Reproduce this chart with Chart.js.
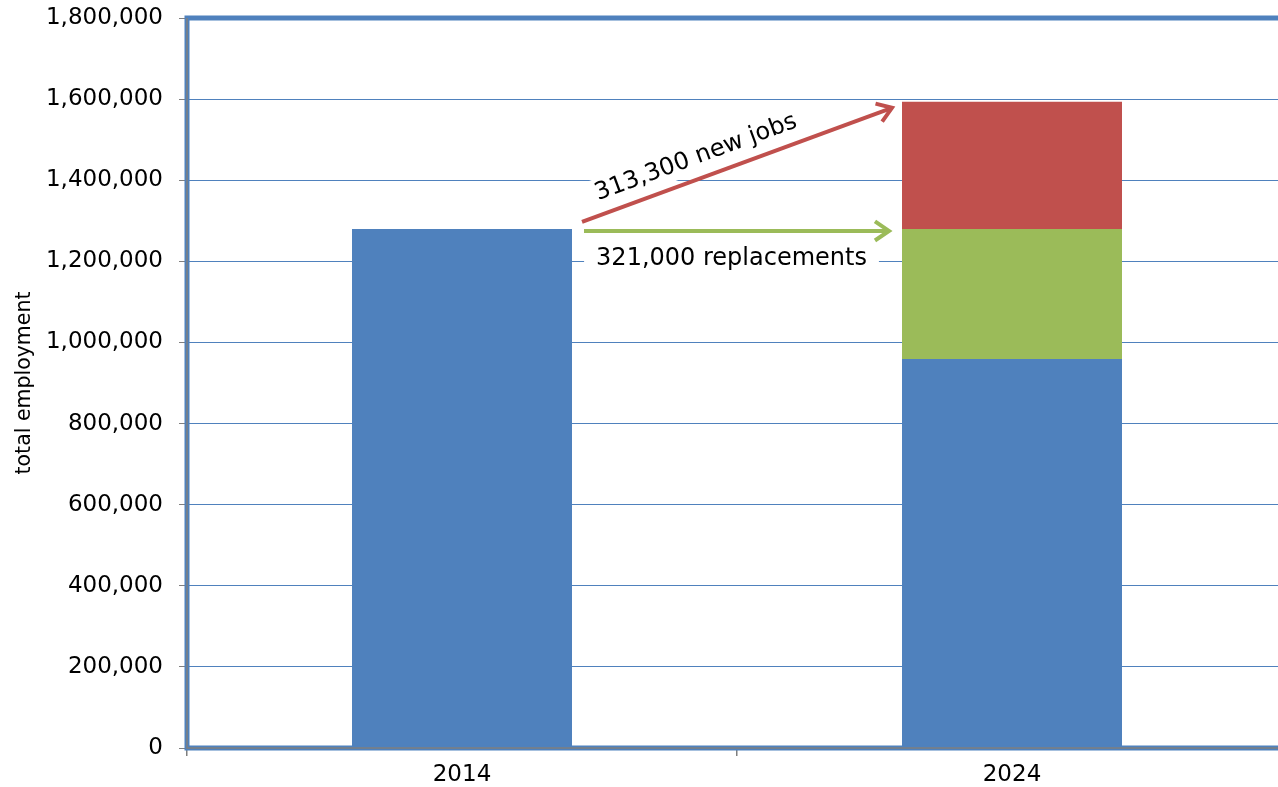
<!DOCTYPE html>
<html>
<head>
<meta charset="utf-8">
<script src="https://cdn.jsdelivr.net/npm/chart.js@4/dist/chart.umd.min.js"></script>
<style>
  html, body { margin: 0; padding: 0; background: #fff; overflow: hidden; }
  #wrap { width: 1290px; height: 787px; }
</style>
</head>
<body>
<div id="wrap"><canvas id="grafico"></canvas></div>
<script>
// Data
const years = ['2014', '2024'];
const employed = [1280000, 959000];
const replacements = [null, 321000];
const newJobs = [null, 313300];
const yTicks = [0, 200000, 400000, 600000, 800000, 1000000, 1200000, 1400000, 1600000, 1800000];
const newJobsLabel = '313,300 new jobs';
const replacementsLabel = '321,000 replacements';

const FONT = '"DejaVu Sans", "Liberation Sans", sans-serif';
const BLUE = '#4f81bd';
const GREEN = '#9bbb59';
const RED = '#c0504d';

// Draw an arrow with an open head
function drawArrow(ctx, x0, y0, x1, y1, color) {
  const ang = Math.atan2(y1 - y0, x1 - x0);
  const head = 17;
  ctx.save();
  ctx.strokeStyle = color;
  ctx.lineWidth = 4;
  ctx.beginPath();
  ctx.moveTo(x0, y0);
  ctx.lineTo(x1, y1);
  ctx.stroke();
  ctx.beginPath();
  ctx.moveTo(x1 - head * Math.cos(ang - 0.6), y1 - head * Math.sin(ang - 0.6));
  ctx.lineTo(x1, y1);
  ctx.lineTo(x1 - head * Math.cos(ang + 0.6), y1 - head * Math.sin(ang + 0.6));
  ctx.stroke();
  ctx.restore();
}

// Text on a white box
function drawLabel(ctx, text, cx, cy, angle, padX) {
  ctx.save();
  ctx.translate(cx, cy);
  ctx.rotate(angle);
  ctx.font = '24px ' + FONT;
  const w = ctx.measureText(text).width;
  ctx.fillStyle = '#fff';
  ctx.fillRect(-w / 2 - padX, -15, w + 2 * padX, 30);
  ctx.fillStyle = '#000';
  ctx.textAlign = 'center';
  ctx.textBaseline = 'middle';
  ctx.fillText(text, 0, 0);
  ctx.restore();
}

const annotations = {
  id: 'annotations',
  afterDatasetsDraw(chart) {
    const ctx = chart.ctx;
    const area = chart.chartArea;
    const y = chart.scales.y;
    const bar0 = chart.getDatasetMeta(0).data[0];
    const bar1 = chart.getDatasetMeta(0).data[1];
    const right0 = bar0.x + bar0.width / 2;
    const left1 = bar1.x - bar1.width / 2;
    const yBase = y.getPixelForValue(employed[0]);
    const yTotal = y.getPixelForValue(employed[1] + replacements[1] + newJobs[1]);

    // arrows
    const red = { x0: right0 + 10, y0: yBase - 7, x1: left1 - 10, y1: yTotal + 6 };
    const green = { x0: right0 + 12, y0: yBase + 2, x1: left1 - 13, y1: yBase + 2 };

    // labels first, arrows over them
    const ang = Math.atan2(red.y1 - red.y0, red.x1 - red.x0);
    const mx = (red.x0 + red.x1) / 2, my = (red.y0 + red.y1) / 2;
    const ux = Math.cos(ang), uy = Math.sin(ang);
    const cx = mx - 36 * ux + 21 * uy;
    const cy = my - 36 * uy - 21 * ux;
    drawLabel(ctx, newJobsLabel, cx, cy, ang, 12);
    drawLabel(ctx, replacementsLabel, (green.x0 + green.x1) / 2 - 5, green.y0 + 28, 0, 12);

    drawArrow(ctx, red.x0, red.y0, red.x1, red.y1, RED);
    drawArrow(ctx, green.x0, green.y0, green.x1, green.y1, GREEN);

    // plot frame
    ctx.save();
    ctx.strokeStyle = BLUE;
    ctx.lineWidth = 5;
    ctx.beginPath();
    ctx.moveTo(chart.width, area.top);
    ctx.lineTo(area.left, area.top);
    ctx.lineTo(area.left, area.bottom);
    ctx.lineTo(chart.width, area.bottom);
    ctx.stroke();
    ctx.strokeStyle = '#7f7f7f';
    ctx.lineWidth = 1.5;
    ctx.beginPath();
    ctx.moveTo(area.left, area.top);
    ctx.lineTo(area.left, area.bottom);
    ctx.lineTo(chart.width, area.bottom);
    ctx.stroke();
    ctx.restore();
  }
};

const ctx = document.getElementById('grafico').getContext('2d');
new Chart(ctx, {
  type: 'bar',
  data: {
    labels: years,
    datasets: [
      { label: 'employment', data: employed, backgroundColor: BLUE },
      { label: 'replacements', data: replacements, backgroundColor: GREEN },
      { label: 'new jobs', data: newJobs, backgroundColor: RED }
    ]
  },
  options: {
    responsive: true,
    maintainAspectRatio: false,
    animation: false,
    layout: { padding: { top: 18, right: 3, left: 0, bottom: 0 } },
    datasets: {
      bar: { barPercentage: 0.4, categoryPercentage: 1, borderWidth: 0 }
    },
    plugins: {
      legend: { display: false },
      tooltip: { enabled: false }
    },
    scales: {
      x: {
        stacked: true,
        border: { display: false },
        grid: {
          offset: true,
          drawOnChartArea: false,
          drawTicks: true,
          tickLength: 8,
          tickColor: '#7f7f7f',
          lineWidth: 1.5
        },
        ticks: { color: '#000', font: { family: FONT, size: 23 }, padding: 5 },
        afterFit(scale) {
          scale.height = 39;
          scale.paddingLeft = 0;
          scale.paddingRight = 0;
        }
      },
      y: {
        stacked: true,
        min: 0,
        max: 1800000,
        border: { display: false },
        grid: {
          color: BLUE,
          lineWidth: 1,
          tickColor: '#7f7f7f',
          tickLength: 8
        },
        afterBuildTicks(scale) {
          scale.ticks = yTicks.map(v => ({ value: v }));
        },
        ticks: {
          color: '#000',
          font: { family: FONT, size: 23 },
          padding: 16,
          callback: v => v.toLocaleString('en-US')
        },
        title: {
          display: true,
          text: 'total employment',
          color: '#000',
          font: { family: FONT, size: 20.5 },
          padding: { top: 12, bottom: 0 }
        },
        afterFit(scale) {
          scale.width = 187;
          scale.paddingTop = 0;
          scale.paddingBottom = 0;
        }
      }
    }
  },
  plugins: [annotations]
});
</script>
</body>
</html>
